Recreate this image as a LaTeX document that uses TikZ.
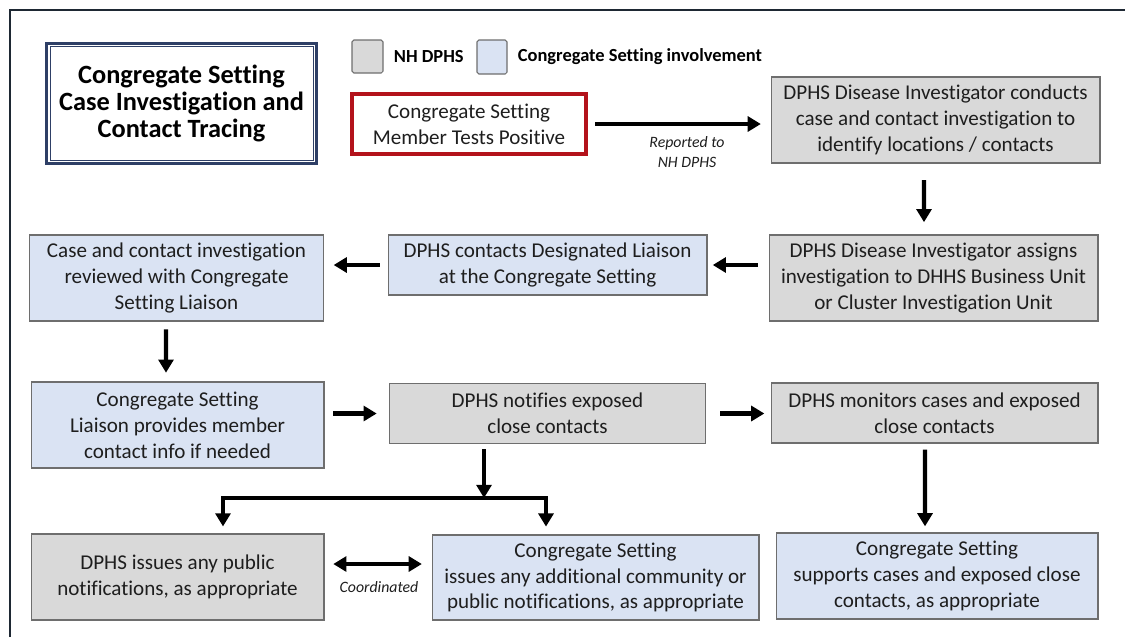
\documentclass[tikz,border=0pt]{standalone}
\usepackage{fontspec}
\setmainfont[Ligatures=NoCommon]{Carlito}
\usepackage{tikz}
\usepackage{xcolor}
\usetikzlibrary{shapes,arrows.meta,positioning,calc}
\definecolor{dphsgray}{HTML}{D9D9D9}
\definecolor{csblue}{HTML}{DAE3F3}
\definecolor{boxline}{HTML}{6E6E6E}
\definecolor{alertred}{HTML}{B3121B}
\definecolor{titlenavy}{HTML}{2E3F66}
\definecolor{framenavy}{HTML}{1E2833}
\definecolor{ink}{HTML}{1E1E1E}

\begin{document}
\begin{tikzpicture}[x=0.02cm,y=-0.02cm,
    box/.style={draw=boxline,line width=0.6pt,align=center,inner sep=0pt,text=ink,
      font=\fontsize{12}{14.7}\selectfont},
    dphs/.style={box,fill=dphsgray},
    cs/.style={box,fill=csblue},
    flow/.style={line width=2.3pt,-{Triangle[length=7.5pt,width=8.5pt]}},
    note/.style={font=\fontsize{9}{11.5}\selectfont\itshape,align=center,text=ink}]
    \useasboundingbox (0,0) rectangle (1125,637);
    \draw[framenavy,line width=1.3pt] (10,637) -- (10,10) -- (1125,10);

    % Title and legend
    \node[draw=titlenavy,line width=1.8pt,minimum width=5.4cm,minimum height=2.4cm,
      align=center,font=\fontsize{15}{15.6}\selectfont\bfseries] (title) at (181.5,103.5)
      {Congregate Setting\\Case Investigation and\\Contact Tracing};
    \draw[titlenavy,line width=0.5pt] ([xshift=0.1cm,yshift=-0.1cm]title.north west)
      rectangle ([xshift=-0.1cm,yshift=0.1cm]title.south east);

    \node[dphs,rounded corners=1pt,minimum width=0.62cm,minimum height=0.66cm] (keygray) at (367.5,56.5) {};
    \node[right=0.2cm of keygray,inner sep=0pt,font=\fontsize{10.5}{12}\selectfont\bfseries] (keydphs) {NH DPHS};
    \node[cs,rounded corners=1pt,minimum width=0.6cm,minimum height=0.68cm] (keyblue) at (492,57) {};
    \node[right=0.2cm of keyblue,inner sep=0pt,font=\fontsize{10.5}{12}\selectfont\bfseries] (keycs) {Congregate Setting involvement};

    % Steps
    \node[box,draw=alertred,line width=2.3pt,minimum width=4.68cm,minimum height=1.2cm] (positive) at (469,124)
      {Congregate Setting\\Member Tests Positive};
    \node[dphs,minimum width=6.58cm,minimum height=1.72cm] (conduct) at (935.5,120)
      {DPHS Disease Investigator conducts\\case and contact investigation to\\identify locations / contacts};
    \node[dphs,minimum width=6.58cm,minimum height=1.72cm] (assign) at (933.5,278)
      {DPHS Disease Investigator assigns\\investigation to DHHS Business Unit\\or Cluster Investigation Unit};
    \node[cs,minimum width=6.38cm,minimum height=1.2cm] (liaison) at (547.5,265)
      {DPHS contacts Designated Liaison\\at the Congregate Setting};
    \node[cs,minimum width=5.88cm,minimum height=1.72cm] (review) at (176.5,278)
      {Case and contact investigation\\reviewed with Congregate\\Setting Liaison};
    \node[cs,minimum width=5.86cm,minimum height=1.72cm] (provide) at (177.5,425)
      {Congregate Setting\\Liaison provides member\\contact info if needed};
    \node[dphs,minimum width=6.32cm,minimum height=1.2cm] (notify) at (547.5,413.5)
      {DPHS notifies exposed\\close contacts};
    \node[dphs,minimum width=6.54cm,minimum height=1.2cm] (monitor) at (934.5,413)
      {DPHS monitors cases and exposed\\close contacts};
    \node[dphs,minimum width=5.86cm,minimum height=1.72cm] (public) at (177.5,577)
      {DPHS issues any public\\notifications, as appropriate};
    \node[cs,minimum width=6.54cm,minimum height=1.7cm] (community) at (595.5,577.5)
      {Congregate Setting\\issues any additional community or\\public notifications, as appropriate};
    \node[cs,minimum width=6.44cm,minimum height=1.72cm] (support) at (937,576)
      {Congregate Setting\\supports cases and exposed close\\contacts, as appropriate};

    % Arrows
    \draw[flow,shorten <=4pt,shorten >=5.5pt] (positive.east) -- (positive.east -| conduct.west);
    \node[note] (reported) at (687,152) {Reported to\\NH DPHS};
    \draw[flow,shorten <=9.5pt,shorten >=7pt] ([xshift=-0.23cm]conduct.south) -- ([xshift=-0.19cm]assign.north);
    \draw[flow,shorten <=6pt,shorten >=3pt] (assign.west |- liaison.east) -- (liaison.east);
    \draw[flow,shorten <=4.5pt,shorten >=5.5pt] (liaison.west) -- (liaison.west -| review.east);
    \draw[flow,shorten <=4.5pt,shorten >=5pt] ([xshift=-0.21cm]review.south) -- ([xshift=-0.23cm]provide.north);
    \draw[flow,shorten <=5pt,shorten >=7pt] (notify.west -| provide.east) -- (notify.west);
    \draw[flow,shorten <=8pt,shorten >=3.5pt] (notify.east) -- (notify.east -| monitor.west);
    \draw[flow,shorten <=3.5pt,shorten >=3.5pt] ([xshift=-0.19cm]monitor.south) -- ([xshift=-0.24cm]support.north);

    % Split to public notifications
    \coordinate (split) at (484,498);
    \coordinate (splitL) at (223,498);
    \coordinate (splitR) at (546,498);
    \draw[flow,shorten <=3pt] (notify.south -| split) -- (split);
    \draw[flow,line join=miter,shorten >=4pt] (splitR) -- (splitL) -- (splitL |- public.north);
    \draw[flow,line join=miter,shorten >=4.5pt] (splitL) -- (splitR) -- (splitR |- community.north);
    \draw[flow,{Triangle[length=7.5pt,width=8.5pt]}-{Triangle[length=7.5pt,width=8.5pt]},
      shorten <=5pt,shorten >=5.5pt] (public.east |- 0,564) -- (community.west |- 0,564);
    \node[note] (coord) at (379,587) {Coordinated};
\end{tikzpicture}
\end{document}
